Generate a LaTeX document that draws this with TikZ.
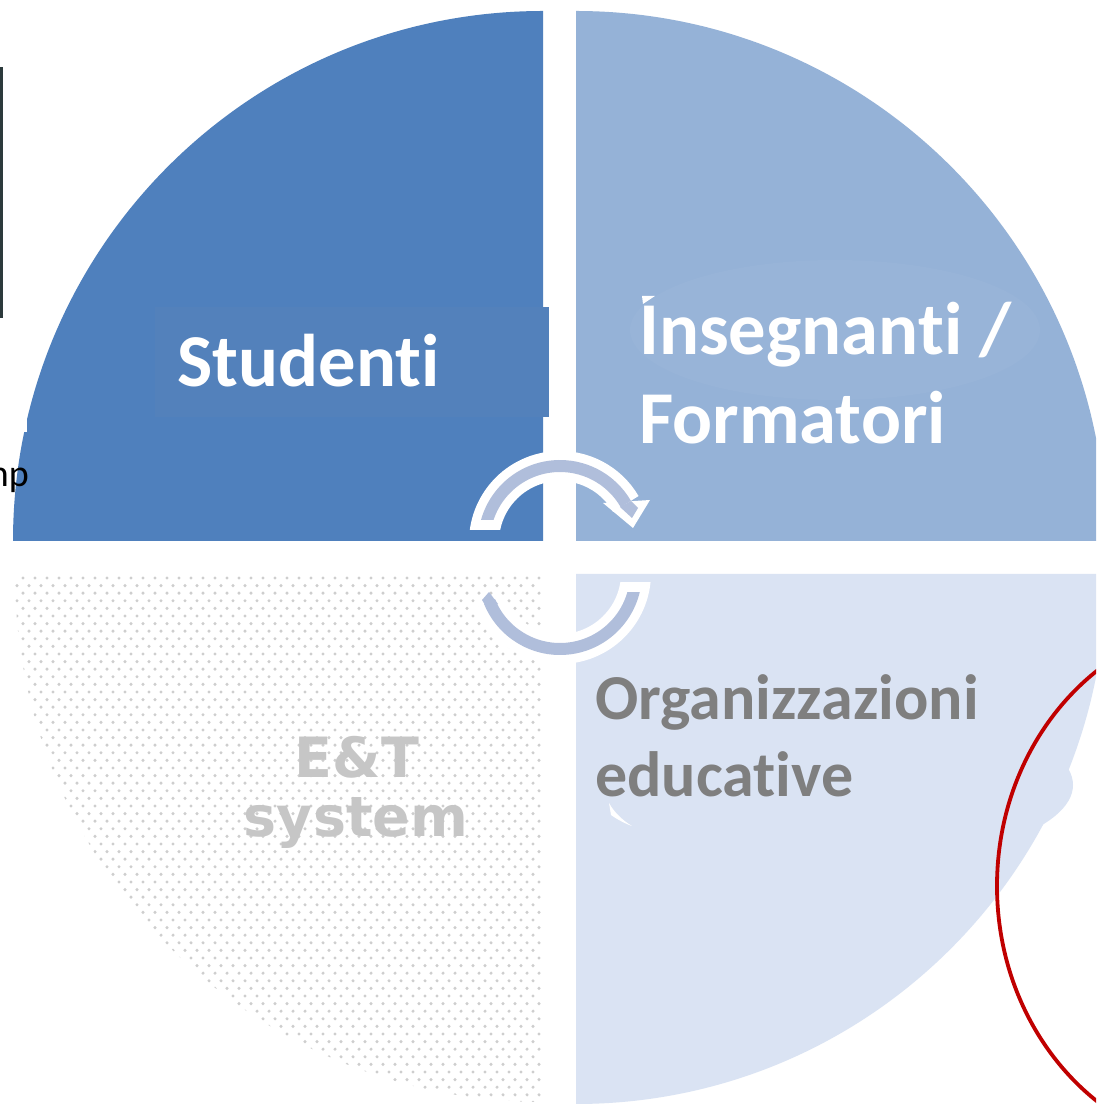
\documentclass[tikz,border=0pt]{standalone}
\usepackage{fontspec}
\setmainfont{Carlito}[Ligatures=NoCommon]
\newfontfamily\etfont{DejaVu Sans}
\definecolor{tlblue}{HTML}{4F80BD}
\definecolor{tlpatch}{HTML}{5381BB}
\definecolor{trblue}{HTML}{95B2D7}
\definecolor{trpatch}{HTML}{98B4D8}
\definecolor{brblue}{HTML}{DAE3F3}
\definecolor{arrowfill}{HTML}{B0BEDB}
\definecolor{dotgrey}{HTML}{CECECE}
\definecolor{textgrey}{HTML}{7F7F7F}
\definecolor{etgrey}{HTML}{C6C6C6}
\definecolor{ringred}{HTML}{C00000}
\definecolor{edgedark}{HTML}{2C3A3C}
\tikzset{
  bigwhite/.style={anchor=base west,inner sep=0pt,text=white,font=\fontsize{74.6}{74.6}\selectfont\bfseries},
  orgtext/.style={anchor=base west,inner sep=0pt,text=textgrey,font=\fontsize{64}{64}\selectfont\bfseries},
  ettext/.style={anchor=base,inner sep=0pt,text=etgrey,font=\etfont\fontsize{55.5}{55.5}\selectfont\bfseries},
  bandout/.style={draw=white,line width=30pt,line cap=butt},
  bandin/.style={draw=arrowfill,line width=12pt,line cap=butt}
}
\begin{document}
\begin{tikzpicture}[x=1pt,y=1pt]
\useasboundingbox (0,0) rectangle (1096,1104);
\clip (0,0) rectangle (1096,1104);
\fill[white] (0,0) rectangle (1096,1104);
% quadrants
\fill[tlblue] (543,563) -- (13,563) arc[start angle=180,end angle=90,radius=530] -- cycle;
\fill[trblue] (576,563) -- (576,1093) arc[start angle=90,end angle=0,radius=530] -- cycle;
\fill[brblue] (576,530) -- (1106,530) arc[start angle=0,end angle=-90,radius=530] -- cycle;
% dotted quadrant
\begin{scope}
\clip (543,530) -- (543,2) arc[start angle=-90,end angle=-180,radius=528] -- cycle;
\foreach \r in {0,...,70} {
  \pgfmathsetmacro{\yy}{526-7.6*\r}
  \pgfmathsetmacro{\off}{mod(\r,2)*6}
  \foreach \c in {0,...,44} {
    \fill[dotgrey] ({539-\off-12*\c},\yy) circle[radius=1.7];
  }
}
\end{scope}
% patches
\fill[tlpatch] (155,687) rectangle (549,797);
\fill[trpatch] (835,774) ellipse[x radius=205,y radius=70];
\fill[white] (642,808) -- (655,808) -- (643,800) -- cycle;
\fill[white] (609,301) -- (611,289) .. controls (618,284) and (626,280) .. (632,278) .. controls (622,284) and (614,292) .. (609,301) -- cycle;
\fill[brblue] (842,319) ellipse[x radius=231,y radius=80];
\fill[white] (0,672) rectangle (27,804);
% left fragment
\fill[edgedark] (0,786) rectangle (3,1037);
\node[anchor=base east,inner sep=0pt,font=\fontsize{38}{38}\selectfont,text=black] (frag) at (29,617) {np};
% upper arrow
\begin{scope}
\clip (440,574) rectangle (680,680);
\draw[bandout] (560,562) ++(185:76) arc[start angle=185,end angle=30,radius=76];
\end{scope}
\fill[white] (603,601) -- (650,604) -- (633,576) -- cycle;
\begin{scope}
\clip (440,584) rectangle (680,680);
\draw[bandin] (560,562) ++(185:76) arc[start angle=185,end angle=30,radius=76];
\end{scope}
\fill[arrowfill] (620,597) -- (631,603) -- (638,596) -- (632,586) -- cycle;
% lower arrow
\begin{scope}
\clip (440,521) rectangle (680,420);
\draw[bandout] (560,531) ++(5:76) arc[start angle=5,end angle=-158,radius=76];
\end{scope}
\begin{scope}
\clip (440,511) rectangle (680,420);
\draw[bandin] (560,531) ++(5:76) arc[start angle=5,end angle=-158,radius=76];
\end{scope}
\fill[arrowfill] (482,504) -- (489,512) -- (498,500) -- (488,494) -- cycle;
% labels
\node[bigwhite] (studenti) at (177,717.5) {Studenti};
\node[bigwhite] (ins) at (639,749) {Insegnanti /};
\node[bigwhite] (form) at (639,660.5) {Formatori};
\node[orgtext] (org) at (595,384) {Organizzazioni};
\node[orgtext] (edu) at (595,307.5) {educative};
\node[ettext] (et) at (357,326.5) {E\&T};
\node[ettext] (sys) at (356,267) {system};
% red ring
\draw[ringred,line width=3.8pt] (1237,218) ellipse[x radius=240,y radius=265];
\end{tikzpicture}
\end{document}
